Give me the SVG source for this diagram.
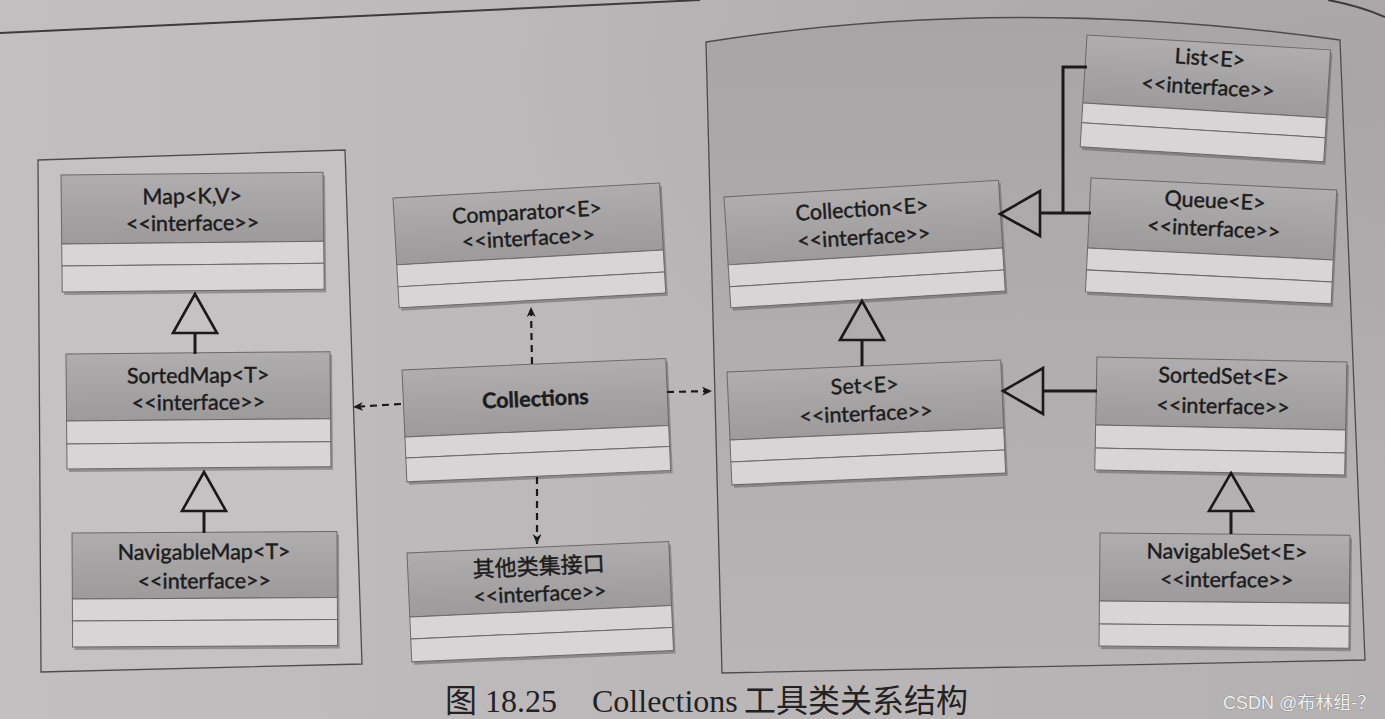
<svg xmlns="http://www.w3.org/2000/svg" width="1385" height="719" viewBox="0 0 1385 719">
<defs>
  <linearGradient id="bg" x1="0" y1="0" x2="1" y2="0">
    <stop offset="0" stop-color="#c3bfc1"/>
    <stop offset="0.5" stop-color="#bbb7b9"/>
    <stop offset="1" stop-color="#b4b1b3"/>
  </linearGradient>
  <radialGradient id="shade" cx="0.95" cy="0.1" r="0.6">
    <stop offset="0" stop-color="#9e9b9d" stop-opacity="0.55"/>
    <stop offset="1" stop-color="#9e9b9d" stop-opacity="0"/>
  </radialGradient>
  <linearGradient id="rc" x1="0" y1="0" x2="0" y2="1">
    <stop offset="0" stop-color="#a8a5a7"/>
    <stop offset="1" stop-color="#b8b5b7"/>
  </linearGradient>
  <linearGradient id="hg" x1="0" y1="0" x2="0" y2="1">
    <stop offset="0" stop-color="#b0adaf"/>
    <stop offset="1" stop-color="#9d9a9c"/>
  </linearGradient>
  <marker id="dep" markerWidth="12" markerHeight="12" refX="10" refY="5" orient="auto" markerUnits="userSpaceOnUse">
    <path d="M0,0.5 L10,5 L0,9.5 L3,5 Z" fill="#1a1a1a"/>
  </marker>
  <style>
    .sh{fill:#555253;opacity:.45}
    .hdr{fill:url(#hg);stroke:#6b6869;stroke-width:1}
    .row{fill:#d8d5d7;stroke:#6b6869;stroke-width:1}
    .t{font-family:Lato,"Open Sans","Noto Sans CJK SC",sans-serif;font-size:21.5px;fill:#1c1c1c;stroke:#1c1c1c;stroke-width:.45;text-anchor:middle}
    .big{font-size:21.5px;font-weight:bold}
    .cjk{font-family:"Noto Sans CJK SC",sans-serif;font-size:22px}
    .conn{stroke:#1a1a1a;stroke-width:3;fill:none}
    .tri{stroke:#1a1a1a;stroke-width:2.6;fill:none;stroke-linejoin:miter}
    .dash{stroke:#1a1a1a;stroke-width:2.2;stroke-dasharray:7 5;fill:none}
    .frame{stroke:#4e4b4c;stroke-width:1.3}
  </style>
</defs>

<!-- page -->
<rect width="1385" height="719" fill="url(#bg)"/>
<rect width="1385" height="719" fill="url(#shade)"/>
<path d="M0,33 L700,0" stroke="#3e3b3c" stroke-width="2" fill="none"/>
<path d="M1328,0 Q1360,6 1385,17" stroke="#3e3b3c" stroke-width="2" fill="none"/>

<!-- containers -->
<g id="mapGroup">
  <path class="frame" d="M38,160 L345,150 L362,664 L41,672 Z" fill="#c5c2c4"/>
</g>
<g id="collectionGroup">
  <path class="frame" d="M706,42 Q1010,-6 1340,40 L1365,660 L722,673 Z" fill="url(#rc)"/>
</g>

<!-- nodes -->
<g id="map" transform="translate(61,175) rotate(-0.6)">
  <rect class="sh" x="2" y="3" width="262" height="117"/>
  <rect class="hdr" width="262" height="69"/>
  <rect class="row" y="69" width="262" height="22"/>
  <rect class="row" y="91" width="262" height="26"/>
  <text class="t" x="131" y="30">Map&lt;K,V&gt;</text>
  <text class="t" x="131" y="57">&lt;&lt;interface&gt;&gt;</text>
</g>
<g id="sortedMap" transform="translate(66,354) rotate(-0.5)">
  <rect class="sh" x="2" y="3" width="264" height="115"/>
  <rect class="hdr" width="264" height="67"/>
  <rect class="row" y="67" width="264" height="23"/>
  <rect class="row" y="90" width="264" height="25"/>
  <text class="t" x="132" y="30">SortedMap&lt;T&gt;</text>
  <text class="t" x="132" y="57">&lt;&lt;interface&gt;&gt;</text>
</g>
<g id="navigableMap" transform="translate(72,533) rotate(-0.3)">
  <rect class="sh" x="2" y="3" width="265" height="114"/>
  <rect class="hdr" width="265" height="66"/>
  <rect class="row" y="66" width="265" height="22"/>
  <rect class="row" y="88" width="265" height="26"/>
  <text class="t" x="132" y="27">NavigableMap&lt;T&gt;</text>
  <text class="t" x="132" y="56">&lt;&lt;interface&gt;&gt;</text>
</g>
<g id="comparator" transform="translate(393,198) rotate(-3.2)">
  <rect class="sh" x="2" y="3" width="267" height="110"/>
  <rect class="hdr" width="267" height="67"/>
  <rect class="row" y="67" width="267" height="22"/>
  <rect class="row" y="89" width="267" height="21"/>
  <text class="t" x="133" y="29">Comparator&lt;E&gt;</text>
  <text class="t" x="133" y="55">&lt;&lt;interface&gt;&gt;</text>
</g>
<g id="collections" transform="translate(402,370) rotate(-2.5)">
  <rect class="sh" x="2" y="3" width="264" height="112"/>
  <rect class="hdr" width="264" height="67"/>
  <rect class="row" y="67" width="264" height="21"/>
  <rect class="row" y="88" width="264" height="24"/>
  <text class="t big" x="132" y="42">Collections</text>
</g>
<g id="otherInterfaces" transform="translate(407,553) rotate(-2.5)">
  <rect class="sh" x="2" y="3" width="262" height="109"/>
  <rect class="hdr" width="262" height="64"/>
  <rect class="row" y="64" width="262" height="22"/>
  <rect class="row" y="86" width="262" height="23"/>
  <text class="t cjk" x="131" y="27">其他类集接口</text>
  <text class="t" x="131" y="54">&lt;&lt;interface&gt;&gt;</text>
</g>
<g id="collection" transform="translate(724,197) rotate(-3.5)">
  <rect class="sh" x="2" y="3" width="275" height="111"/>
  <rect class="hdr" width="275" height="68"/>
  <rect class="row" y="68" width="275" height="22"/>
  <rect class="row" y="90" width="275" height="21"/>
  <text class="t" x="137" y="28">Collection&lt;E&gt;</text>
  <text class="t" x="137" y="56">&lt;&lt;interface&gt;&gt;</text>
</g>
<g id="set" transform="translate(727,372) rotate(-2.5)">
  <rect class="sh" x="2" y="3" width="274" height="113"/>
  <rect class="hdr" width="274" height="68"/>
  <rect class="row" y="68" width="274" height="22"/>
  <rect class="row" y="90" width="274" height="23"/>
  <text class="t" x="137" y="27">Set&lt;E&gt;</text>
  <text class="t" x="137" y="55">&lt;&lt;interface&gt;&gt;</text>
</g>
<g id="list" transform="translate(1087,35) rotate(3.5)">
  <rect class="sh" x="2" y="3" width="244" height="112"/>
  <rect class="hdr" width="244" height="68"/>
  <rect class="row" y="68" width="244" height="20"/>
  <rect class="row" y="88" width="244" height="24"/>
  <text class="t" x="124" y="23">List&lt;E&gt;</text>
  <text class="t" x="124" y="52">&lt;&lt;interface&gt;&gt;</text>
</g>
<g id="queue" transform="translate(1091,178) rotate(2.8)">
  <rect class="sh" x="2" y="3" width="246" height="114"/>
  <rect class="hdr" width="246" height="70"/>
  <rect class="row" y="70" width="246" height="22"/>
  <rect class="row" y="92" width="246" height="22"/>
  <text class="t" x="125" y="24">Queue&lt;E&gt;</text>
  <text class="t" x="125" y="52">&lt;&lt;interface&gt;&gt;</text>
</g>
<g id="sortedSet" transform="translate(1097,357) rotate(1.15)">
  <rect class="sh" x="2" y="3" width="250" height="113"/>
  <rect class="hdr" width="250" height="68"/>
  <rect class="row" y="68" width="250" height="23"/>
  <rect class="row" y="91" width="250" height="22"/>
  <text class="t" x="127" y="24">SortedSet&lt;E&gt;</text>
  <text class="t" x="127" y="54">&lt;&lt;interface&gt;&gt;</text>
</g>
<g id="navigableSet" transform="translate(1100,533) rotate(0.5)">
  <rect class="sh" x="2" y="3" width="250" height="113"/>
  <rect class="hdr" width="250" height="68"/>
  <rect class="row" y="68" width="250" height="23"/>
  <rect class="row" y="91" width="250" height="22"/>
  <text class="t" x="127" y="25">NavigableSet&lt;E&gt;</text>
  <text class="t" x="127" y="53">&lt;&lt;interface&gt;&gt;</text>
</g>

<!-- connectors -->
<g id="connectors">
  <path class="conn" d="M195,333 L195,354"/>
  <path class="tri" d="M195,294 L217,333 L173,333 Z"/>
  <path class="conn" d="M204,511 L204,533"/>
  <path class="tri" d="M204,472 L226,511 L182,511 Z"/>
  <path class="conn" d="M1040,213 L1091,213 M1063,213 L1063,67 L1087,67"/>
  <path class="tri" d="M1000,214 L1040,191 L1040,236 Z"/>
  <path class="conn" d="M862,340 L862,366"/>
  <path class="tri" d="M862,301 L884,340 L840,340 Z"/>
  <path class="conn" d="M1043,391 L1097,391"/>
  <path class="tri" d="M1003,391 L1043,368 L1043,414 Z"/>
  <path class="conn" d="M1231,511 L1231,534"/>
  <path class="tri" d="M1231,473 L1253,511 L1209,511 Z"/>
  <path class="dash" d="M532,364 L531,307" marker-end="url(#dep)"/>
  <path class="dash" d="M537,477 L537,544" marker-end="url(#dep)"/>
  <path class="dash" d="M401,404 L353,407" marker-end="url(#dep)"/>
  <path class="dash" d="M667,392 L712,391" marker-end="url(#dep)"/>
</g>

<!-- caption -->
<text x="445" y="712" font-family="'Liberation Serif','Noto Sans CJK SC',serif" font-size="32" fill="#222">图 18.25<tspan x="592">Collections</tspan><tspan x="744">工具类关系结构</tspan></text>
<!-- watermark -->
<text x="1223" y="709" font-family="'Liberation Sans','Noto Sans CJK SC',sans-serif" font-size="18" fill="#f2f2f2" stroke="#6a6a6a" stroke-width="0.6" paint-order="stroke">CSDN @布林组-？</text>
</svg>
